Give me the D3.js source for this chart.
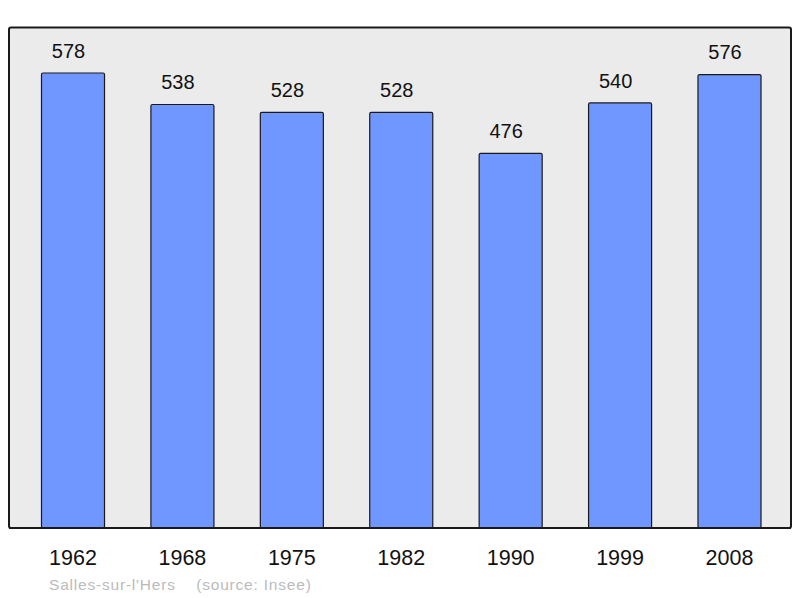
<!DOCTYPE html>
<html><head><meta charset="utf-8">
<script src="https://cdn.jsdelivr.net/npm/d3@7"></script>
<style>body{margin:0;background:#fff}svg{display:block}</style>
</head><body>
<svg id="c" width="800" height="598"></svg>
<script>
const years = ["1962","1968","1975","1982","1990","1999","2008"];
const population = [578,538,528,528,476,540,576];
const caption = "Salles-sur-l'Hers    (source: Insee)";

const svg = d3.select("#c");
const frame = {x0: 9, y0: 27.5, x1: 791, y1: 528};
const x = d3.scaleBand().domain(years).range([18.3, 784.2]).paddingInner(0.424).paddingOuter(0.212);
const y = d3.scaleLinear().domain([0, 578 * 1.1]).range([frame.y1, frame.y0]);

svg.append("rect").attr("x", frame.x0).attr("y", frame.y0)
  .attr("width", frame.x1 - frame.x0).attr("height", frame.y1 - frame.y0)
  .attr("rx", 2).attr("fill", "#ebebeb").attr("stroke", "#1a1a1a").attr("stroke-width", 2);

svg.selectAll("rect.bar").data(population).join("rect").attr("class", "bar")
  .attr("x", (d, i) => x(years[i]))
  .attr("y", d => y(d))
  .attr("width", x.bandwidth())
  .attr("height", d => frame.y1 - y(d))
  .attr("rx", 1.5)
  .attr("fill", "#7096ff").attr("stroke", "#1a1a1a").attr("stroke-width", 1.2);

svg.append("line").attr("x1", frame.x0).attr("x2", frame.x1).attr("y1", frame.y1).attr("y2", frame.y1)
  .attr("stroke", "#1a1a1a").attr("stroke-width", 2);

svg.selectAll("text.val").data(population).join("text").attr("class", "val")
  .attr("x", (d, i) => x(years[i]) + x.bandwidth() / 2 - 4.5)
  .attr("y", d => y(d) - 15.3)
  .attr("text-anchor", "middle")
  .attr("font-family", "Liberation Sans, Arial, sans-serif").attr("font-size", 20)
  .attr("fill", "#111").text(d => d);

const xAxis = d3.axisBottom(x).tickSize(0).tickPadding(0);
const gx = svg.append("g").attr("transform", `translate(0,${frame.y1})`).call(xAxis);
gx.select(".domain").remove();
gx.selectAll("text").attr("dy", null).attr("y", 36.5)
  .attr("font-family", "Liberation Sans, Arial, sans-serif").attr("font-size", 21.5).attr("fill", "#111");

svg.append("text").attr("x", 49).attr("y", 589.5)
  .attr("font-family", "Liberation Sans, Arial, sans-serif").attr("font-size", 15.5)
  .attr("letter-spacing", 0.8)
  .attr("fill", "#bbbbbb").attr("xml:space", "preserve").style("white-space", "pre").text(caption);
</script>
</body></html>
